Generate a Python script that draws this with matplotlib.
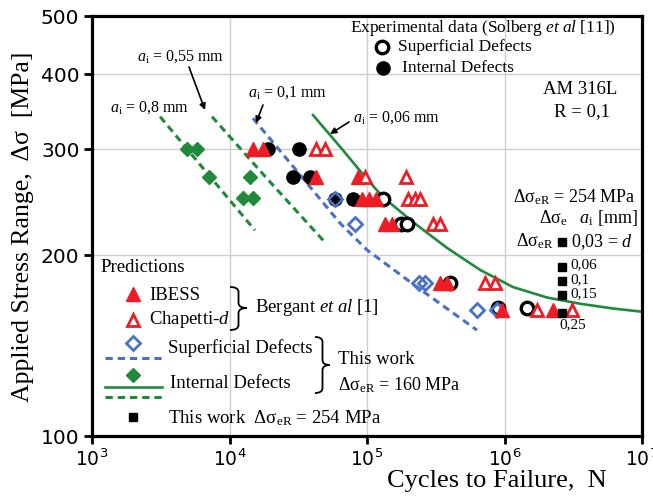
import numpy as np
import matplotlib
matplotlib.use('Agg')
import matplotlib.pyplot as plt
from matplotlib.lines import Line2D
from matplotlib.path import Path
from matplotlib.patches import PathPatch
from matplotlib.ticker import NullLocator

plt.rcParams['font.family'] = ['Liberation Serif', 'DejaVu Sans']
plt.rcParams['mathtext.fontset'] = 'custom'
plt.rcParams['mathtext.rm'] = 'Liberation Serif'
plt.rcParams['mathtext.it'] = 'Liberation Serif:italic'
plt.rcParams['mathtext.bf'] = 'Liberation Serif:bold'
plt.rcParams['mathtext.sf'] = 'DejaVu Sans'

# ---------------- data ----------------
ibess_N = [14800, 17500, 42500, 86100, 92000, 103400, 116200, 135200, 152000, 340000, 382000, 959000, 2250000]
ibess_S = [300, 300, 270, 270, 248, 248, 248, 225, 225, 180, 180, 162, 162]

chap_N = [42500, 49500, 96700, 192000, 199000, 223000, 243000, 302000, 340000, 721000, 853000, 1720000, 3100000]
chap_S = [300, 300, 270, 270, 248, 248, 248, 225, 225, 180, 180, 162, 162]

exp_sup_N = [130600, 178000, 196000, 401000, 898000, 1458000]
exp_sup_S = [248, 225, 225, 180, 163, 163]

exp_int_N = [19060, 32000, 29000, 38500, 79000, 58500]
exp_int_S = [300, 300, 270, 270, 248, 248]

sup_N = [58500, 81800, 239000, 264000, 631000, 881000]
sup_S = [248, 225, 180, 180, 162, 162]

int_N = [4910, 5800, 7100, 14100, 12500, 14800]
int_S = [300, 300, 270, 270, 249, 249]

tw254_N = [2620000, 2620000, 2620000, 2620000, 2620000]
tw254_S = [210, 191, 181, 171.6, 160]
tw254_labels = ['0,03', '0,06', '0,1', '0,15', '0,25']

line006_N = [40500, 63700, 96700, 130600, 216000, 382000, 664000, 1150000, 2040000, 3540000, 6150000, 10000000]
line006_S = [342, 303, 270, 249.8, 227, 205.6, 189, 177, 170, 166, 163, 161]
line01_N = [14800, 32600, 63700, 100000, 231000, 631000]
line01_S = [338, 272, 226, 204, 177, 150]
line055_N = [7460, 19060, 49500]
line055_S = [340, 267, 210]
line08_N = [3130, 6860, 15300]
line08_S = [340, 274, 220]

xticks = [1e3, 1e4, 1e5, 1e6, 1e7]
xticklabels = [r'$\mathsf{10^{3}}$', r'$\mathsf{10^{4}}$', r'$\mathsf{10^{5}}$', r'$\mathsf{10^{6}}$', r'$\mathsf{10^{7}}$']
yticks = [100, 200, 300, 400, 500]
yticklabels = ['100', '200', '300', '400', '500']

RED = '#ee1c24'
BLUE = '#4a72c4'
GREEN = '#1f8a3c'

W, H = 653, 497
fig = plt.figure(figsize=(W / 100, H / 100), dpi=100)
ax = fig.add_axes([92 / W, 61 / H, 550 / W, 420 / H])
ax.set_xscale('log')
ax.set_yscale('log')
ax.set_xlim(1e3, 1e7)
ax.set_ylim(100, 500)
ax.xaxis.set_minor_locator(NullLocator())
ax.yaxis.set_minor_locator(NullLocator())
ax.set_xticks(xticks)
ax.set_xticklabels(xticklabels, fontsize=13.5)
ax.set_yticks(yticks)
ax.set_yticklabels(yticklabels, fontsize=14.5, fontfamily='DejaVu Sans')
ax.tick_params(direction='out', length=6, width=2, pad=3)
for s in ax.spines.values():
    s.set_linewidth(2.3)
for x in [1e4, 1e5, 1e6]:
    ax.axvline(x, color='#cfcfcf', lw=1, zorder=0)
for y in [200, 300, 400]:
    ax.axhline(y, color='#cfcfcf', lw=1, zorder=0)

# lines
ax.plot(line006_N, line006_S, color=GREEN, lw=1.9, zorder=2)
ax.plot(line01_N, line01_S, color=BLUE, lw=2.2, ls=(0, (2.4, 1.6)), zorder=2)
ax.plot(line055_N, line055_S, color=GREEN, lw=2.2, ls=(0, (2.4, 1.6)), zorder=2)
ax.plot(line08_N, line08_S, color=GREEN, lw=2.2, ls=(0, (2.4, 1.6)), zorder=2)

# markers
ax.plot(exp_int_N, exp_int_S, 'o', color='k', ms=9.5, zorder=3)
ax.plot(exp_sup_N, exp_sup_S, 'o', mfc='white', mec='k', mew=2.4, ms=9, zorder=3)
ax.plot(int_N, int_S, 'D', color=GREEN, ms=7.5, zorder=4)
ax.plot(sup_N, sup_S, 'D', mfc='none', mec=BLUE, mew=2, ms=7.5, zorder=4)
ax.plot(ibess_N, ibess_S, '^', color=RED, ms=9.5, zorder=5)
ax.plot(chap_N, chap_S, '^', mfc='white', mec=RED, mew=2, ms=9, zorder=5)
ax.plot(tw254_N, tw254_S, 's', color='k', ms=6, zorder=6)


def T(x, y, s, size=13.5, ha='left', va='center', **kw):
    fig.text(x / W, 1 - y / H, s, fontsize=size, ha=ha, va=va, **kw)


def M(x, y, **kw):
    fig.add_artist(Line2D([x / W], [1 - y / H], transform=fig.transFigure, **kw))


def L(x0, x1, y, **kw):
    fig.add_artist(Line2D([x0 / W, x1 / W], [1 - y / H, 1 - y / H], transform=fig.transFigure, **kw))


def arrow(x0, y0, x1, y1):
    ax.annotate('', xy=(x1, H - y1), xycoords='figure pixels', xytext=(x0, H - y0),
                textcoords='figure pixels',
                arrowprops=dict(arrowstyle='-|>', lw=1.2, color='k', mutation_scale=9, shrinkA=0, shrinkB=0))


def brace(x0, x1, yt, yb, ym, r=5):
    xm = (x0 + x1) / 2
    pts = [(x0, yt), (xm, yt), (xm, yt + r), (xm, ym - r), (xm, ym), (x1, ym),
           (xm, ym), (xm, ym + r), (xm, yb - r), (xm, yb), (x0, yb)]
    codes = [Path.MOVETO, Path.CURVE3, Path.CURVE3, Path.LINETO, Path.CURVE3, Path.CURVE3,
             Path.CURVE3, Path.CURVE3, Path.LINETO, Path.CURVE3, Path.CURVE3]
    pts = [(px / W, 1 - py / H) for px, py in pts]
    fig.add_artist(PathPatch(Path(pts, codes), fill=False, lw=1.3, color='k', transform=fig.transFigure))


# axis labels
T(497, 481, 'Cycles to Failure,  N', size=19, ha='center')
T(23, 227, r'Applied Stress Range,  Δσ  [MPa]', size=18.5, ha='center', rotation=90)

# curve annotations
T(137, 57, r'$a_{\mathrm{i}}$ = 0,55 mm', size=11.5)
T(110, 108, r'$a_{\mathrm{i}}$ = 0,8 mm', size=11.5)
T(248, 93, r'$a_{\mathrm{i}}$ = 0,1 mm', size=11.5)
T(353, 118, r'$a_{\mathrm{i}}$ = 0,06 mm', size=11.5)
arrow(189, 67, 205, 110)
arrow(263, 105, 256, 123)
arrow(349, 122, 330, 134)

# experimental legend
T(350, 28, r'Experimental data (Solberg $et\ al$ [11])', size=12.5)
M(382, 47, marker='o', mfc='white', mec='k', mew=2.4, ms=9)
T(398, 47, 'Superficial Defects', size=12.5)
M(383, 68, marker='o', color='k', ms=9.5)
T(402, 68, 'Internal Defects', size=12.5)

T(580, 90, 'AM 316L', size=13.5, ha='center')
T(582, 112, 'R = 0,1', size=13.5, ha='center')

T(513, 197, r'Δσ$_{\mathrm{eR}}$ = 254 MPa', size=13)
T(638, 218, r'Δσ$_{\mathrm{e}}$   $a_{\mathrm{i}}$ [mm]', size=13, ha='right')
T(553, 241, r'Δσ$_{\mathrm{eR}}$', size=13, ha='right')
T(571, 242, tw254_labels[0] + r' = $d$', size=13)
T(570, 265, tw254_labels[1], size=11)
T(570, 280, tw254_labels[2], size=11)
T(570, 294, tw254_labels[3], size=11)
T(559, 325, tw254_labels[4], size=11)

# predictions legend
T(100, 268, 'Predictions', size=13.5)
M(133, 294, marker='^', color=RED, ms=9.5)
T(149, 295, 'IBESS', size=13.5)
M(133, 320, marker='^', mfc='white', mec=RED, mew=2, ms=9)
T(149, 320, r'Chapetti-$d$', size=13.5)
brace(230, 247, 287, 330, 308)
T(255, 307, r'Bergant $et\ al$ [1]', size=13.5)

M(133, 343, marker='D', mfc='none', mec=BLUE, mew=2, ms=7.5)
L(105, 162, 358, color=BLUE, lw=2.2, ls=(0, (2.4, 1.6)))
T(168, 348, 'Superficial Defects', size=13.5)
M(133, 375, marker='D', color=GREEN, ms=7.5)
L(105, 162, 387, color=GREEN, lw=1.9)
L(105, 162, 397, color=GREEN, lw=2.2, ls=(0, (2.4, 1.6)))
T(170, 384, 'Internal Defects', size=13.5)
brace(315, 330, 337, 393, 365)
T(338, 360, 'This work', size=13.5)
T(338, 385, r'Δσ$_{\mathrm{eR}}$ = 160 MPa', size=13)
M(133, 417, marker='s', color='k', ms=6)
T(168, 418, r'This work  Δσ$_{\mathrm{eR}}$ = 254 MPa', size=13.5)

fig.savefig('out.png', dpi=100)
